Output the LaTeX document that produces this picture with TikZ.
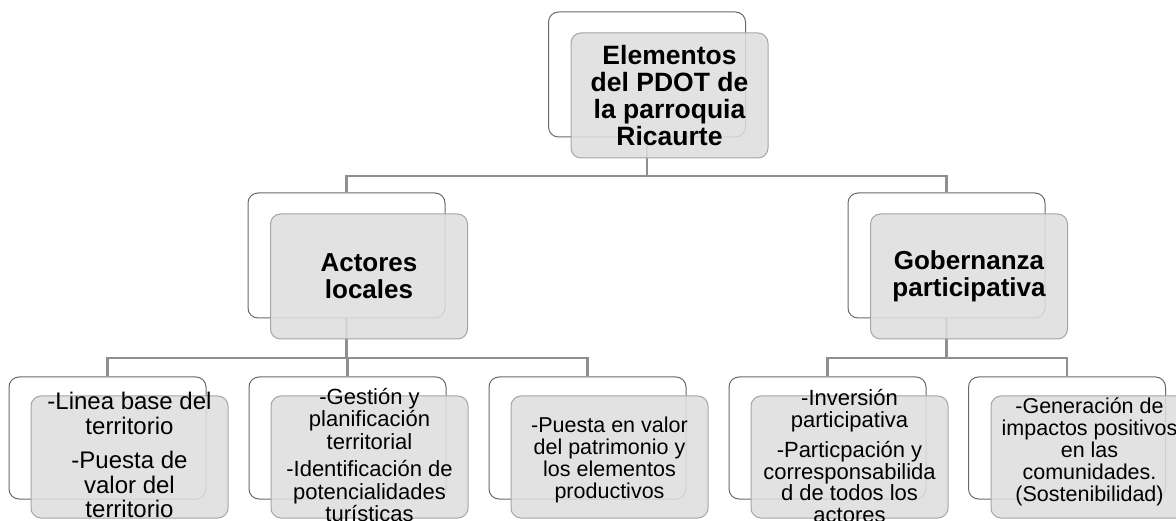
\documentclass[tikz,border=0pt]{standalone}
\usepackage{fontspec}
\setmainfont{Liberation Sans}
\definecolor{connc}{RGB}{143,143,143}
\definecolor{backc}{RGB}{105,105,105}
\definecolor{frontb}{RGB}{165,165,165}
\definecolor{frontf}{RGB}{222,222,222}
\tikzset{
  conn/.style={draw=connc, line width=2.5pt},
  backbox/.style={draw=backc, line width=1pt, fill=white, rounded corners=10pt, minimum width=197pt, minimum height=#1, inner sep=0pt},
  frontbox/.style={draw=frontb, line width=1pt, fill=frontf, fill opacity=0.88, text opacity=1, rounded corners=10pt, minimum width=197pt, minimum height=#1, inner sep=0pt, align=center},
  bigtxt/.style={font=\bfseries\fontsize{26.5}{27}\selectfont},
  midtxt/.style={font=\bfseries\fontsize{26}{27}\selectfont},
  smalltxt/.style={align=center, inner sep=0pt},
}
\begin{document}
\begin{tikzpicture}[x=1pt,y=-1pt]
\useasboundingbox (0,0) rectangle (1176,521);
% back boxes
\node[backbox=125pt] (b0) at (647,74.5) {};
\node[backbox=125pt] (b1) at (346.5,255.5) {};
\node[backbox=125pt] (b2) at (946.5,255.5) {};
\node[backbox=122pt] (c1) at (107.5,438) {};
\node[backbox=122pt] (c2) at (347.5,438) {};
\node[backbox=122pt] (c3) at (587.5,438) {};
\node[backbox=122pt] (c4) at (827.5,438) {};
\node[backbox=122pt] (c5) at (1067,438) {};
% connectors
\coordinate (h1) at (0,176);
\coordinate (h2) at (0,358);
\draw[conn] (b0.south) -- (b0.south |- h1) -| (b1.north);
\draw[conn] (b0.south |- h1) -| (b2.north);
\draw[conn] (b1.south) -- (b1.south |- h2) -| (c1.north);
\draw[conn] (b1.south |- h2) -| (c2.north);
\draw[conn] (b1.south |- h2) -| (c3.north);
\draw[conn] (b2.south) -- (b2.south |- h2) -| (c4.north);
\draw[conn] (b2.south |- h2) -| (c5.north);
% front boxes
\node[frontbox=125pt, bigtxt] (f0) at (669.5,95.5) {Elementos\\del PDOT de\\la parroquia\\Ricaurte};
\node[frontbox=125pt, midtxt] (f1) at (369,276.5) {Actores\\locales};
\node[frontbox=125pt, midtxt] (f2) at (969,276.5) {Gobernanza\\participativa};
\node[frontbox=122pt] (g1) at (129.5,457) {};
\node[frontbox=122pt] (g2) at (369.5,457) {};
\node[frontbox=122pt] (g3) at (609.5,457) {};
\node[frontbox=122pt] (g4) at (849.5,457) {};
\node[frontbox=122pt] (g5) at (1089.5,457) {};
% bottom texts
\node[smalltxt, font=\fontsize{24}{24.5}\selectfont] (t1) at ([yshift=2pt]g1.center) {-Linea base del\\territorio\\[10pt]-Puesta de\\valor del\\territorio};
\node[smalltxt, font=\fontsize{22}{22.5}\selectfont] (t2) at ([yshift=2pt]g2.center) {-Gestión y\\planificación\\territorial\\[5pt]-Identificación de\\potencialidades\\turísticas};
\node[smalltxt, font=\fontsize{21.5}{22}\selectfont] (t3) at ([yshift=-3pt]g3.center) {-Puesta en valor\\del patrimonio y\\los elementos\\productivos};
\node[smalltxt, font=\fontsize{22}{21.5}\selectfont] (t4) at ([yshift=1pt]g4.center) {-Inversión\\participativa\\[9pt]-Particpación y\\corresponsabilida\\d de todos los\\actores};
\node[smalltxt, font=\fontsize{21.5}{22}\selectfont] (t5) at ([yshift=5pt]g5.center) {-Generación de\\impactos positivos\\en las\\comunidades.\\(Sostenibilidad)};
\end{tikzpicture}
\end{document}
